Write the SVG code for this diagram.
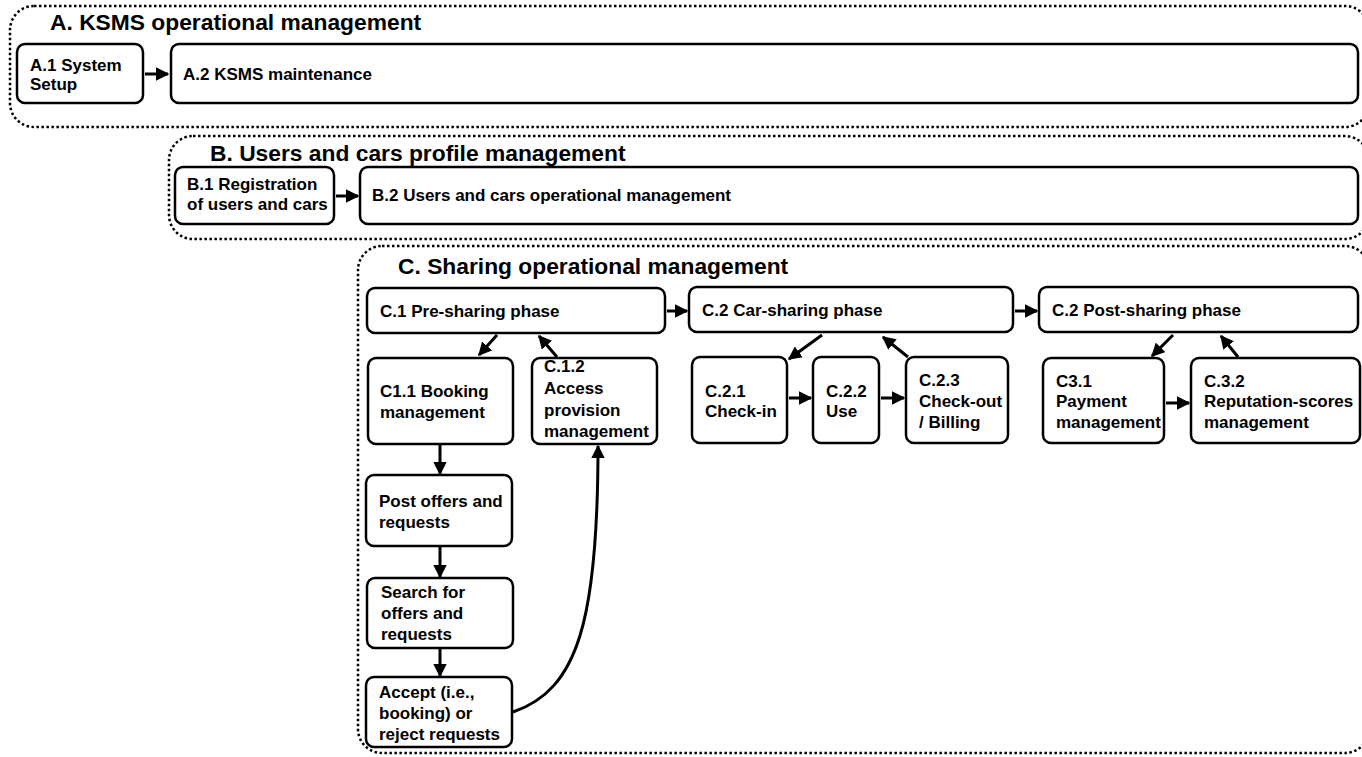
<svg xmlns="http://www.w3.org/2000/svg" width="1362" height="757" viewBox="0 0 1362 757">
<style>
.grp{fill:none;stroke:#000;stroke-width:2.5;stroke-dasharray:2.5 2.5}
.box{fill:#fff;stroke:#000;stroke-width:2.5}
.t{font-family:"Liberation Sans",Arial,sans-serif;font-weight:bold;font-size:17px;fill:#000}
.h{font-family:"Liberation Sans",Arial,sans-serif;font-weight:bold;font-size:22.8px;fill:#000}
.c{fill:none;stroke:#000;stroke-width:3}
</style>
<defs>
<marker id="ah" viewBox="0 0 10 10" refX="9" refY="5" markerWidth="4.5" markerHeight="4.5" markerUnits="strokeWidth" orient="auto">
<path d="M0,0 L10,5 L0,10 z" fill="#000"/>
</marker>
</defs>
<rect width="1362" height="757" fill="#fff"/>
<g id="groupA">
<rect class="grp" x="10" y="6" width="1359" height="121" rx="24"/>
<text class="h" x="50" y="30">A. KSMS operational management</text>
</g>
<g id="groupB">
<rect class="grp" x="169" y="136" width="1200" height="103" rx="24"/>
<text class="h" x="210" y="161">B. Users and cars profile management</text>
</g>
<g id="groupC">
<rect class="grp" x="358" y="246" width="1011" height="507" rx="24"/>
<text class="h" x="398" y="274">C. Sharing operational management</text>
</g>
<g id="A1"><rect class="box" x="17" y="44" width="126" height="59" rx="8"/><text class="t" x="30" y="71">A.1 System</text><text class="t" x="30" y="90">Setup</text></g>
<g id="A2"><rect class="box" x="171" y="44" width="1187" height="59" rx="8"/><text class="t" x="183" y="80">A.2 KSMS maintenance</text></g>
<g id="B1"><rect class="box" x="175" y="167" width="159" height="57" rx="8"/><text class="t" x="187" y="190">B.1 Registration</text><text class="t" x="187" y="210">of users and cars</text></g>
<g id="B2"><rect class="box" x="360" y="167" width="998" height="57" rx="8"/><text class="t" x="372" y="201">B.2 Users and cars operational management</text></g>
<g id="C1"><rect class="box" x="367" y="288" width="298" height="45" rx="8"/><text class="t" x="380" y="317">C.1 Pre-sharing phase</text></g>
<g id="C2"><rect class="box" x="689" y="287" width="324" height="45" rx="8"/><text class="t" x="702" y="316">C.2 Car-sharing phase</text></g>
<g id="C3"><rect class="box" x="1039" y="287" width="319" height="45" rx="8"/><text class="t" x="1052" y="316">C.2 Post-sharing phase</text></g>
<g id="C11"><rect class="box" x="368" y="358" width="145" height="86" rx="8"/><text class="t" x="380" y="397">C1.1 Booking</text><text class="t" x="380" y="418">management</text></g>
<g id="C12"><rect class="box" x="532" y="358" width="125" height="86" rx="8"/><text class="t" x="544" y="372">C.1.2</text><text class="t" x="544" y="394">Access</text><text class="t" x="544" y="416">provision</text><text class="t" x="544" y="437">management</text></g>
<g id="Post"><rect class="box" x="366" y="475" width="146" height="71" rx="8"/><text class="t" x="379" y="507">Post offers and</text><text class="t" x="379" y="528">requests</text></g>
<g id="Search"><rect class="box" x="367" y="578" width="146" height="70" rx="8"/><text class="t" x="381" y="598">Search for</text><text class="t" x="381" y="619">offers and</text><text class="t" x="381" y="640">requests</text></g>
<g id="Accept"><rect class="box" x="366" y="677" width="146" height="70" rx="8"/><text class="t" x="379" y="698">Accept (i.e.,</text><text class="t" x="379" y="719">booking) or</text><text class="t" x="379" y="740">reject requests</text></g>
<g id="C21"><rect class="box" x="692" y="357" width="95" height="86" rx="8"/><text class="t" x="705" y="397">C.2.1</text><text class="t" x="705" y="417">Check-in</text></g>
<g id="C22"><rect class="box" x="813" y="357" width="66" height="86" rx="8"/><text class="t" x="826" y="397">C.2.2</text><text class="t" x="826" y="417">Use</text></g>
<g id="C23"><rect class="box" x="906" y="357" width="102" height="86" rx="8"/><text class="t" x="919" y="386">C.2.3</text><text class="t" x="919" y="407">Check-out</text><text class="t" x="919" y="428">/ Billing</text></g>
<g id="C31"><rect class="box" x="1043" y="358" width="121" height="85" rx="8"/><text class="t" x="1056" y="387">C3.1</text><text class="t" x="1056" y="407">Payment</text><text class="t" x="1056" y="428">management</text></g>
<g id="C32"><rect class="box" x="1191" y="358" width="169" height="85" rx="8"/><text class="t" x="1204" y="387">C.3.2</text><text class="t" x="1204" y="407">Reputation-scores</text><text class="t" x="1204" y="428">management</text></g>
<g id="connectors">
<path class="c" marker-end="url(#ah)" d="M145,74 L168,74"/>
<path class="c" marker-end="url(#ah)" d="M336,196 L358,196"/>
<path class="c" marker-end="url(#ah)" d="M667,311 L687,311"/>
<path class="c" marker-end="url(#ah)" d="M1015,311 L1037,311"/>
<path class="c" marker-end="url(#ah)" d="M497,335 L479,355"/>
<path class="c" marker-end="url(#ah)" d="M557,357 L539,336"/>
<path class="c" marker-end="url(#ah)" d="M440,444 L440,474"/>
<path class="c" marker-end="url(#ah)" d="M440,546 L440,577"/>
<path class="c" marker-end="url(#ah)" d="M440,648 L440,676"/>
<path class="c" marker-end="url(#ah)" d="M513,712 C578,690 598,620 598,446"/>
<path class="c" marker-end="url(#ah)" d="M822,335 L789,359"/>
<path class="c" marker-end="url(#ah)" d="M908,357 L883,337"/>
<path class="c" marker-end="url(#ah)" d="M789,398 L811,398"/>
<path class="c" marker-end="url(#ah)" d="M881,398 L904,398"/>
<path class="c" marker-end="url(#ah)" d="M1173,335 L1152,356"/>
<path class="c" marker-end="url(#ah)" d="M1238,357 L1221,336"/>
<path class="c" marker-end="url(#ah)" d="M1166,403 L1189,403"/>
</g>
</svg>
